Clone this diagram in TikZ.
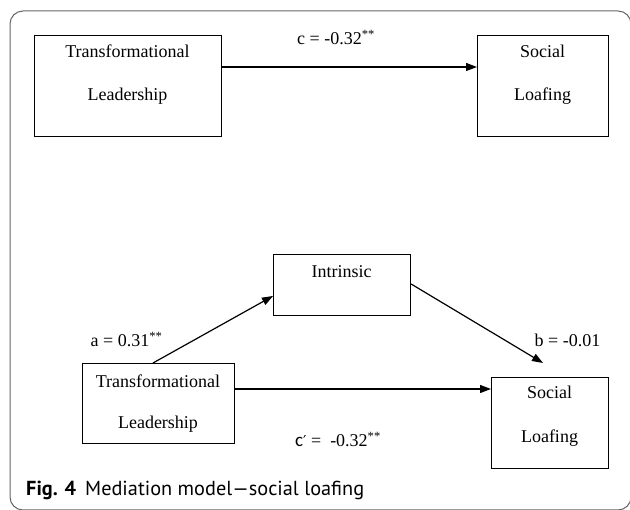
\documentclass[tikz,border=0pt]{standalone}
\usepackage{fontspec}
\setmainfont{Liberation Serif}
\newfontfamily\capfont{PT Sans}
\newfontfamily\csans{Carlito}
\newfontfamily\primefont{DejaVu Sans}
\usetikzlibrary{arrows.meta,calc}
\begin{document}
\begin{tikzpicture}[x=1pt,y=-1pt,
  box/.style={draw, line width=1.1pt, inner sep=0pt, anchor=north west},
  txt/.style={font=\fontsize{18}{20}\selectfont, anchor=base, inner sep=0pt},
  arr/.style={line width=1.2pt, -{Triangle[length=11pt,width=8pt]}},
  frame/.style={draw=black!60, line width=1pt, rounded corners=13pt}
]
\useasboundingbox (0,0) rectangle (630,510);
\draw[frame] (10,11) rectangle (631,510);

% top model
\node[box, minimum width=187pt, minimum height=101pt] (tl1) at (34,35) {};
\node[txt] (tl1a) at (127.5,58) {Transformational};
\node[txt] (tl1b) at (127.5,101) {Leadership};
\node[box, minimum width=131pt, minimum height=101pt] (sl1) at (477,35) {};
\node[txt] (sl1a) at (542.5,58) {Social};
\node[txt] (sl1b) at (542.5,101) {Loafing};
\draw[arr] (tl1.east |- 0,67) -- (sl1.west |- 0,67);
\node[txt] (lc) at (336,45) {c = -0.32\textsuperscript{**}};

% mediation model
\node[box, minimum width=137pt, minimum height=61pt] (int) at (273,254) {};
\node[txt] (inta) at (341.5,278) {Intrinsic};
\node[box, minimum width=152pt, minimum height=80pt] (tl2) at (82,363) {};
\node[txt] (tl2a) at (158,388) {Transformational};
\node[txt] (tl2b) at (158,429) {Leadership};
\node[box, minimum width=117pt, minimum height=91pt] (sl2) at (491,377) {};
\node[txt] (sl2a) at (549.5,399) {Social};
\node[txt] (sl2b) at (549.5,443) {Loafing};

\coordinate (btip) at (543,363);
\draw[arr] (tl2.north -| 153,0) -- (int.west |- 0,296);
\draw[arr] (int.east |- 0,284) -- (btip);
\draw[arr] (tl2.east |- 0,389) -- (sl2.west |- 0,389);

\node[txt] (la) at (126.5,347) {a = 0.31\textsuperscript{**}};
\node[txt] (lb) at (567.5,347) {b = -0.01};
\node[txt] (lcp) at (338,447) {{\csans\fontsize{19}{20}\selectfont c{\primefont\fontsize{15}{20}\selectfont ′}} =\enspace-0.32\textsuperscript{**}};

% caption
\node[anchor=base west, inner sep=0pt, font=\capfont\fontsize{20.3}{22}\selectfont] (cap) at (26,496)
  {\textbf{Fig. 4}\hspace{9pt}Mediation model—social loafing};
\end{tikzpicture}
\end{document}
